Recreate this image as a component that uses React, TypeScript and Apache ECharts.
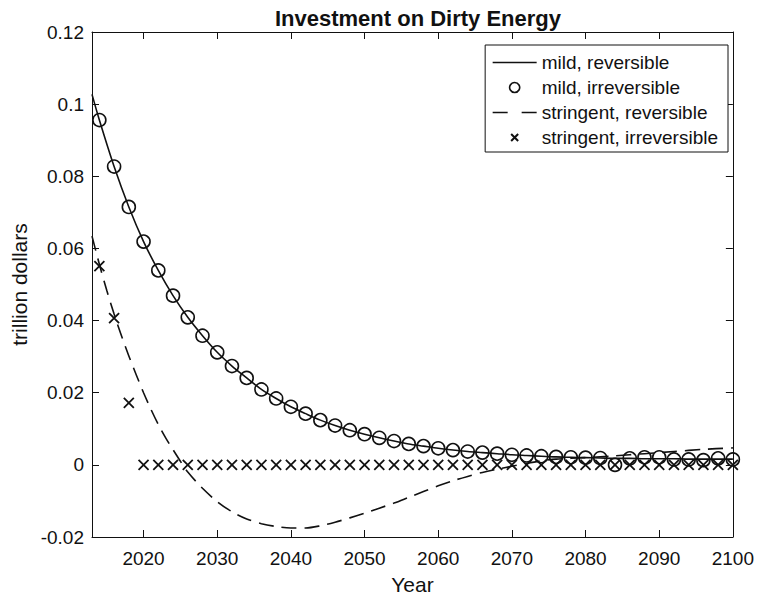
import React, { useEffect, useRef } from 'react';
import * as echarts from 'echarts';

// Years where markers are drawn
const markerYears = [
  2014, 2016, 2018, 2020, 2022, 2024, 2026, 2028, 2030, 2032, 2034,
  2036, 2038, 2040, 2042, 2044, 2046, 2048, 2050, 2052, 2054, 2056,
  2058, 2060, 2062, 2064, 2066, 2068, 2070, 2072, 2074, 2076, 2078,
  2080, 2082, 2084, 2086, 2088, 2090, 2092, 2094, 2096, 2098, 2100,
];

// mild, irreversible (circles)
const mildIrreversible = [
  0.0956, 0.0827, 0.0715, 0.0619, 0.0539, 0.0469, 0.0409, 0.0358, 0.0312, 0.0274, 0.0241,
  0.0209, 0.0184, 0.0161, 0.0142, 0.0124, 0.0109, 0.0096, 0.0085, 0.0075, 0.0066, 0.0058,
  0.0052, 0.0046, 0.0041, 0.0037, 0.0034, 0.0031, 0.0028, 0.0026, 0.0024, 0.0022, 0.0021,
  0.0020, 0.0019, 0.0000, 0.0018, 0.0021, 0.0021, 0.0015, 0.0015, 0.0013, 0.0018, 0.0015,
];

// mild, reversible (solid line)
const mildRevYears = [
  2013, 2014, 2016, 2018, 2020, 2022, 2024, 2026, 2028, 2030, 2032, 2034,
  2036, 2038, 2040, 2042, 2044, 2046, 2048, 2050, 2052, 2054, 2056,
  2058, 2060, 2062, 2064, 2066, 2068, 2070, 2072, 2074, 2076, 2078,
  2080, 2082, 2084, 2086, 2088, 2090, 2092, 2094, 2096, 2098, 2100,
];
const mildReversible = [
  0.1027, 0.0956, 0.0827, 0.0715, 0.0619, 0.0539, 0.0469, 0.0409, 0.0358, 0.0312, 0.0274, 0.0241,
  0.0209, 0.0184, 0.0161, 0.0142, 0.0124, 0.0109, 0.0096, 0.0085, 0.0075, 0.0066, 0.0058,
  0.0052, 0.0046, 0.0041, 0.0037, 0.0034, 0.0031, 0.0028, 0.0026, 0.0024, 0.0022, 0.0021,
  0.0020, 0.0019, 0.0018, 0.0018, 0.0017, 0.0017, 0.0017, 0.0016, 0.0016, 0.0016, 0.0016,
];

// stringent, reversible (dashed line)
const stringentRevYears = [
  2013, 2014, 2015, 2016, 2017, 2018, 2019, 2020, 2021, 2022, 2023, 2024, 2025, 2026,
  2028, 2030, 2032, 2034, 2036, 2038, 2040, 2042, 2044, 2046, 2048, 2050, 2052, 2054,
  2056, 2058, 2060, 2062, 2064, 2066, 2068, 2070, 2072, 2074, 2076, 2080, 2084, 2088,
  2092, 2096, 2100,
];
const stringentReversible = [
  0.0634, 0.0556, 0.0484, 0.0418, 0.0358, 0.0302, 0.0250, 0.0200, 0.0154, 0.0112, 0.0075, 0.0042, 0.0010, -0.0020,
  -0.0065, -0.0102, -0.0130, -0.0150, -0.0163, -0.0171, -0.0175, -0.0175, -0.0169, -0.0159, -0.0147, -0.0134, -0.0120, -0.0106,
  -0.0090, -0.0074, -0.0058, -0.0044, -0.0032, -0.0021, -0.0012, -0.0004, 0.0004, 0.0011, 0.0016, 0.0020, 0.0025, 0.0031,
  0.0037, 0.0043, 0.0047,
];

// stringent, irreversible (crosses)
const stringentIrreversible = [
  0.0551, 0.0407, 0.0172, 0, 0, 0, 0, 0, 0, 0, 0,
  0, 0, 0, 0, 0, 0, 0, 0, 0, 0, 0,
  0, 0, 0, 0, 0, 0, 0, 0, 0, 0, 0,
  0, 0, 0, 0, 0, 0, 0, 0, 0, 0, 0,
];

const xTicks = [2020, 2030, 2040, 2050, 2060, 2070, 2080, 2090, 2100];
const seriesNames = [
  'mild, reversible',
  'mild, irreversible',
  'stringent, reversible',
  'stringent, irreversible',
];

const FONT = '"Liberation Sans", Arial, Helvetica, sans-serif';
const INK = '#111111';

const zip = (xs: number[], ys: number[]) => xs.map((x, i) => [x, ys[i]]);

export default function App() {
  const ref = useRef<HTMLDivElement>(null);

  useEffect(() => {
    document.body.style.margin = '0';
    if (!ref.current) return;
    const chart = echarts.init(ref.current, undefined, { renderer: 'svg' });

    const xAxisBase = {
      type: 'value' as const,
      min: 2013,
      max: 2100,
      splitLine: { show: false },
      axisLine: { show: true, onZero: false, lineStyle: { color: INK, width: 1 } },
      axisTick: { show: true, inside: true, length: 7, customValues: xTicks, lineStyle: { color: INK } },
    };
    const yAxisBase = {
      type: 'value' as const,
      min: -0.02,
      max: 0.12,
      interval: 0.02,
      splitLine: { show: false },
      axisLine: { show: true, onZero: false, lineStyle: { color: INK, width: 1 } },
      axisTick: { show: true, inside: true, length: 7, lineStyle: { color: INK } },
    };

    const iconStroke = { color: 'none', borderColor: INK, borderWidth: 1.6, borderType: 'solid', opacity: 1 };

    chart.setOption({
      animation: false,
      backgroundColor: '#fff',
      title: {
        text: 'Investment on Dirty Energy',
        left: 413,
        textAlign: 'center',
        top: 2,
        textStyle: { fontFamily: FONT, fontSize: 22, fontWeight: 'bold', color: INK },
      },
      grid: { left: 92, top: 32, right: 23, bottom: 61, containLabel: false },
      legend: {
        orient: 'vertical',
        right: 29,
        top: 45,
        data: [
          { name: seriesNames[0], icon: 'path://M0 0M0 5L44 5M44 10', itemStyle: iconStroke },
          { name: seriesNames[1], icon: 'path://M0 0M5.5 0.5A5 5 0 1 1 5.49 0.5M11 11', itemStyle: iconStroke },
          { name: seriesNames[2], icon: 'path://M0 0M0 5L15 5M29 5L44 5M44 10', itemStyle: iconStroke },
          { name: seriesNames[3], icon: 'path://M0 0M2 2L9 9M9 2L2 9M11 11', itemStyle: { ...iconStroke, borderWidth: 2 } },
        ],
        itemWidth: 44,
        itemHeight: 11,
        itemGap: 6,
        padding: [8, 10, 5, 5],
        borderColor: INK,
        borderWidth: 1,
        backgroundColor: '#fff',
        textStyle: { fontFamily: FONT, fontSize: 19, color: INK, lineHeight: 19 },
      },
      xAxis: [
        {
          ...xAxisBase,
          position: 'bottom',
          name: 'Year',
          nameLocation: 'middle',
          nameGap: 37,
          nameTextStyle: { fontFamily: FONT, fontSize: 21, color: INK },
          axisLabel: {
            show: true,
            customValues: xTicks,
            margin: 12,
            fontFamily: FONT,
            fontSize: 19,
            color: INK,
            formatter: (v: number) => String(v),
          },
        },
        {
          ...xAxisBase,
          position: 'top',
          axisLabel: { show: false },
        },
      ],
      yAxis: [
        {
          ...yAxisBase,
          position: 'left',
          name: 'trillion dollars',
          nameLocation: 'middle',
          nameGap: 62,
          nameTextStyle: { fontFamily: FONT, fontSize: 21, color: INK },
          axisLabel: {
            show: true,
            margin: 8,
            fontFamily: FONT,
            fontSize: 19,
            color: INK,
            formatter: (v: number) => String(parseFloat(v.toFixed(4))),
          },
        },
        {
          ...yAxisBase,
          position: 'right',
          axisLabel: { show: false },
        },
      ],
      series: [
        {
          name: seriesNames[0],
          type: 'line',
          xAxisIndex: 0,
          yAxisIndex: 0,
          data: zip(mildRevYears, mildReversible),
          symbol: 'none',
          smooth: 0.3,
          lineStyle: { color: INK, width: 1.6, type: 'solid' },
          itemStyle: { color: INK },
          z: 2,
        },
        {
          name: seriesNames[1],
          type: 'scatter',
          xAxisIndex: 0,
          yAxisIndex: 0,
          data: zip(markerYears, mildIrreversible),
          symbol: 'circle',
          symbolSize: 13,
          itemStyle: { color: 'rgba(0,0,0,0)', borderColor: INK, borderWidth: 1.6, opacity: 1 },
          z: 3,
        },
        {
          name: seriesNames[2],
          type: 'line',
          xAxisIndex: 0,
          yAxisIndex: 0,
          data: zip(stringentRevYears, stringentReversible),
          symbol: 'none',
          smooth: 0.3,
          lineStyle: { color: INK, width: 1.6, type: [15, 8] },
          itemStyle: { color: INK },
          z: 2,
        },
        {
          name: seriesNames[3],
          type: 'scatter',
          xAxisIndex: 0,
          yAxisIndex: 0,
          data: zip(markerYears, stringentIrreversible),
          symbol: 'path://M0 0L10 10M10 0L0 10',
          symbolSize: 10,
          itemStyle: { color: 'none', borderColor: INK, borderWidth: 1.8, opacity: 1 },
          z: 3,
        },
      ],
    });

    return () => chart.dispose();
  }, []);

  return <div ref={ref} style={{ width: 757, height: 600 }} />;
}
